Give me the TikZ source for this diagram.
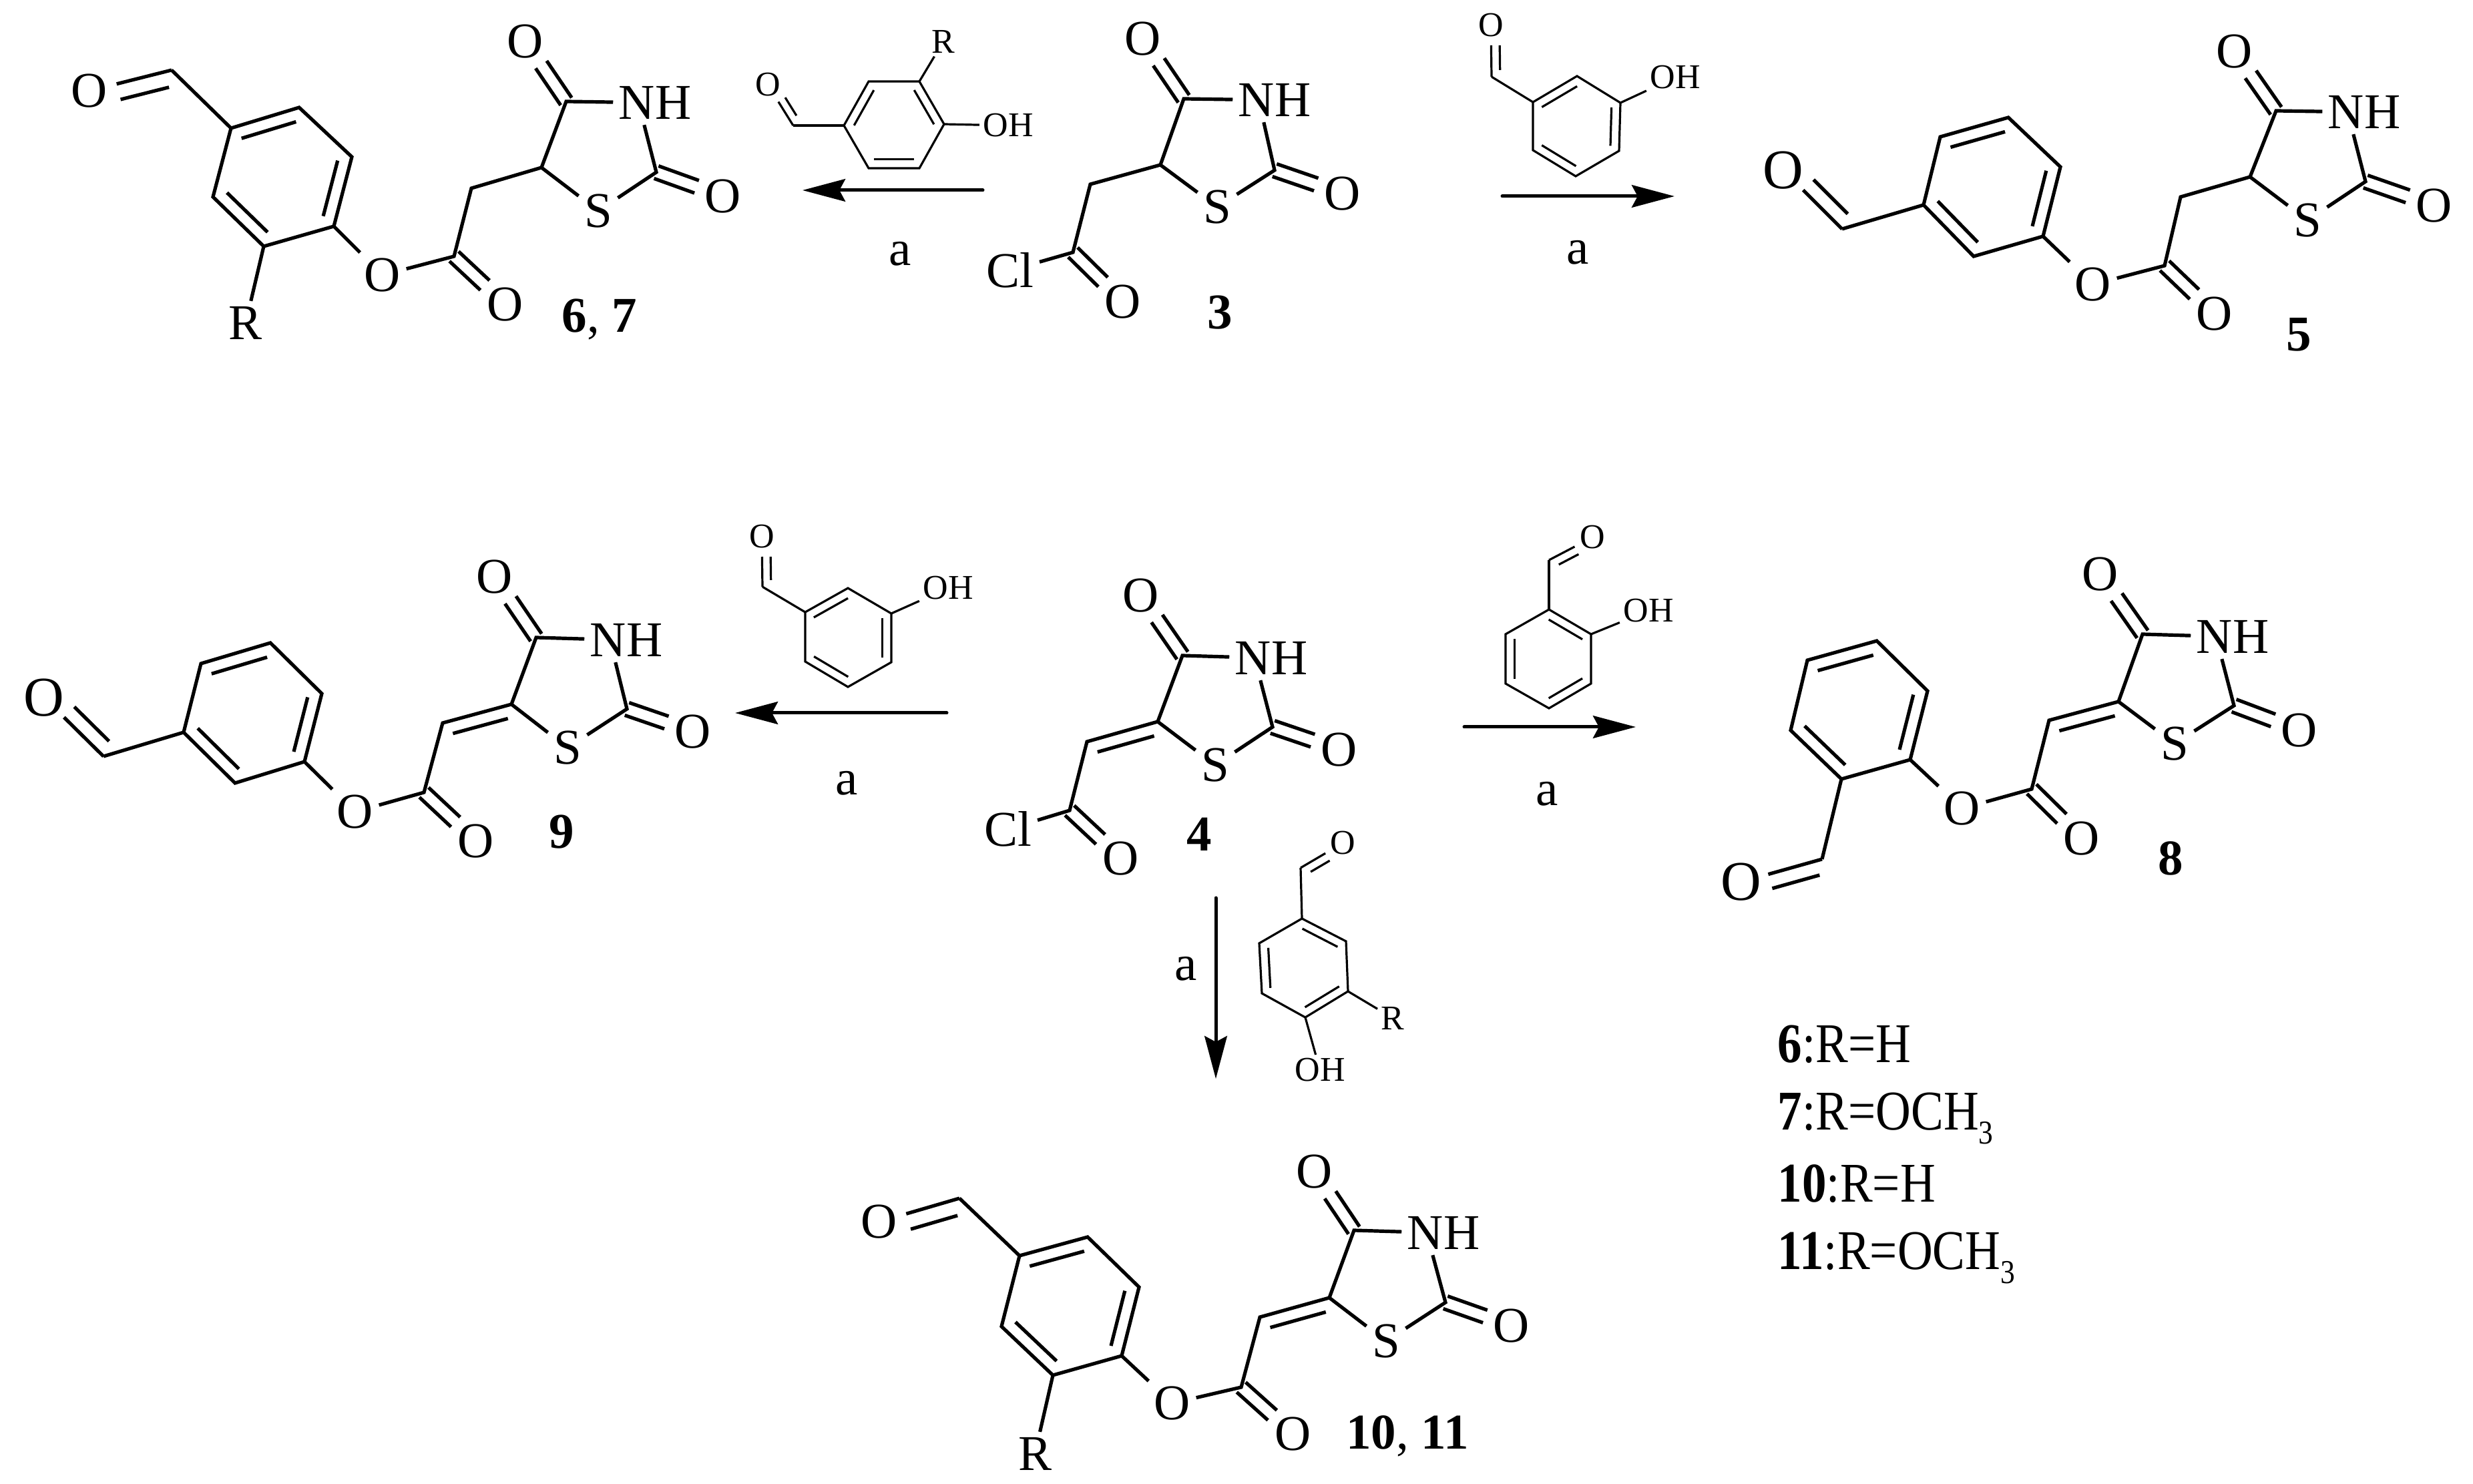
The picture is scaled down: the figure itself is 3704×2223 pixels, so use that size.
\documentclass[tikz,border=0pt]{standalone}
\usepackage{fontspec}
\setmainfont{Liberation Serif}
\newfontfamily\legfont[FakeStretch=.87]{Liberation Serif}
\usetikzlibrary{calc}
\usetikzlibrary{arrows.meta}

\def\ogap{10.5pt}
\def\inoff{4.8pt}

\tikzset{
  product/.style={line width=1.3pt,
    every node/.style={font=\fontsize{18.75}{20}\selectfont,inner sep=1.5pt}},
  reagent/.style={line width=.8pt,
    /utils/exec={\def\ogap{7.5pt}\def\inoff{3.3pt}},
    every node/.style={font=\fontsize{13}{14}\selectfont,inner sep=1pt}},
  bigO/.style={font=\fontsize{21}{22}\selectfont},
  rxn/.style={line width=1.25pt,line cap=round,-{Stealth[length=16pt,width=8.4pt,inset=2.2pt]}},
  cond/.style={font=\fontsize{18.75}{20}\selectfont},
  cmpd/.style={font=\fontsize{18.75}{20}\selectfont},
  legend/.style={font=\legfont\fontsize{21}{22}\selectfont,anchor=base west,inner sep=0pt}
}

% lowered subscript of the legend
\newcommand{\subthree}{\raisebox{-5.3pt}{\fontsize{12.5}{13}\selectfont 3}}
% second, shorter line of a ring double bond (a to b clockwise)
\newcommand{\inbond}[2]{\draw ($($(#1)!.1!(#2)$)!\inoff!-90:(#2)$) -- ($($(#2)!.1!(#1)$)!\inoff!90:(#1)$);}
% C=O, two lines either side of the axis
\newcommand{\dblsym}[2]{%
  \draw[shorten >=\ogap] ($(#1)!2.5pt!90:(#2)$) -- ($(#2)!2.5pt!-90:(#1)$);
  \draw[shorten >=\ogap] ($(#1)!2.5pt!-90:(#2)$) -- ($(#2)!2.5pt!90:(#1)$);}
% C=O of an aldehyde, one line from the carbon
\newcommand{\dblald}[3]{%
  \draw[shorten >=\ogap] ($(#1)$) -- ($(#2)$);
  \draw[shorten >=\ogap,shorten <=2.5pt] ($(#1)!#3!90:(#2)$) -- ($(#2)!#3!-90:(#1)$);}
% clockwise benzene ring, bonds 12, 34, 56 double
\newcommand{\benzene}[6]{%
  \draw (#1) -- (#2) -- (#3) -- (#4) -- (#5) -- (#6) -- cycle;
  \inbond{#1}{#2}\inbond{#3}{#4}\inbond{#5}{#6}}
% dione ring and the acyl arm
\newcommand{\thiazo}[1]{%
  \draw (#1c5) -- (#1c4) -- (#1nh);
  \draw (#1nh.-116) -- (#1c2) -- (#1s) -- (#1c5);
  \dblsym{#1c4}{#1o4}\dblsym{#1c2}{#1o2}\dblsym{#1co}{#1oc}
  \draw (#1x) -- (#1co) -- (#1ch) -- (#1c5);}

\begin{document}
\begin{tikzpicture}[x=.25pt,y=-.25pt]
\useasboundingbox (0,0) rectangle (3704,2223);

% product 6, 7
\begin{scope}[product]
\coordinate (p6cho) at (257,105); \coordinate (p6r1) at (346,192);
\coordinate (p6r2) at (448,161);  \coordinate (p6r3) at (527,235);
\coordinate (p6r4) at (500,339);  \coordinate (p6r5) at (395,369);
\coordinate (p6r6) at (319,295);
\coordinate (p6co) at (680,384);  \coordinate (p6ch) at (706,282);
\coordinate (p6c5) at (811,251);  \coordinate (p6c4) at (848,152);
\coordinate (p6c2) at (983,258);
\node (p6oa) at (134,136) {O};
\node (p6R) at (368,484) {R};
\node (p6x) at (573,412) {O};
\node (p6oc) at (757,456) {O};
\node (p6o4) at (787,62) {O};
\node (p6nh) at (981,154) {NH};
\node (p6o2) at (1083,294) {O};
\node (p6s) at (896,316) {S};
\node[cmpd] (l67) at (898,478) {\textbf{6}, \textbf{7}};
\benzene{p6r1}{p6r2}{p6r3}{p6r4}{p6r5}{p6r6}
\draw (p6r1) -- (p6cho); \dblald{p6cho}{p6oa}{6pt}
\draw (p6r5) -- (p6R); \draw (p6r4) -- (p6x);
\thiazo{p6}
\end{scope}

% reagent to 6, 7
\begin{scope}[reagent]
\coordinate (g1cho) at (1188,188); \coordinate (g1r1) at (1264,188);
\coordinate (g1r2) at (1301,122);  \coordinate (g1r3) at (1377,122);
\coordinate (g1r4) at (1414,186);  \coordinate (g1r5) at (1377,252);
\coordinate (g1r6) at (1301,252);
\node (g1o) at (1150,127) {O};
\node (g1R) at (1413,62) {R};
\node (g1oh) at (1510,188) {OH};
\benzene{g1r1}{g1r2}{g1r3}{g1r4}{g1r5}{g1r6}
\draw (g1r1) -- (g1cho); \dblald{g1cho}{g1o}{-3pt}
\draw (g1r3) -- (g1R); \draw (g1r4) -- (g1oh);
\end{scope}
\coordinate (a1s) at (1472,285); \coordinate (a1t) at (1202,285);
\draw[rxn] (a1s) -- (a1t);
\node[cond] (la1) at (1348,380) {a};

% chloride 3
\begin{scope}[product]
\coordinate (c3co) at (1607,378); \coordinate (c3ch) at (1633,276);
\coordinate (c3c5) at (1738,247); \coordinate (c3c4) at (1773,148);
\coordinate (c3c2) at (1909,255);
\node (c3x) at (1513,405) {Cl};
\node (c3oc) at (1682,452) {O};
\node (c3o4) at (1712,58) {O};
\node (c3nh) at (1909,150) {NH};
\node (c3o2) at (2011,290) {O};
\node (c3s) at (1823,310) {S};
\node[cmpd] (l3) at (1827,468) {\textbf{3}};
\thiazo{c3}
\end{scope}

% reagent to 5
\begin{scope}[reagent]
\coordinate (g2cho) at (2234,115); \coordinate (g2r1) at (2296,153);
\coordinate (g2r2) at (2362,114);  \coordinate (g2r3) at (2427,154);
\coordinate (g2r4) at (2425,226);  \coordinate (g2r5) at (2360,264);
\coordinate (g2r6) at (2296,225);
\node (g2o) at (2233,38) {O};
\node (g2oh) at (2509,116) {OH};
\benzene{g2r1}{g2r2}{g2r3}{g2r4}{g2r5}{g2r6}
\draw (g2r1) -- (g2cho); \dblald{g2cho}{g2o}{-3.2pt}
\draw (g2r3) -- (g2oh);
\end{scope}
\coordinate (a2s) at (2250,294); \coordinate (a2t) at (2508,294);
\draw[rxn] (a2s) -- (a2t);
\node[cond] (la2) at (2363,378) {a};

% product 5
\begin{scope}[product]
\coordinate (p5cho) at (2759,343); \coordinate (p5r1) at (2881,307);
\coordinate (p5r2) at (2906,205);  \coordinate (p5r3) at (3008,176);
\coordinate (p5r4) at (3086,250);  \coordinate (p5r5) at (3060,354);
\coordinate (p5r6) at (2956,384);
\coordinate (p5co) at (3242,398);  \coordinate (p5ch) at (3266,295);
\coordinate (p5c5) at (3370,265);  \coordinate (p5c4) at (3409,166);
\coordinate (p5c2) at (3543,272);
\node[bigO] (p5oa) at (2671,255) {O};
\node (p5x) at (3135,426) {O};
\node (p5oc) at (3317,470) {O};
\node (p5o4) at (3347,77) {O};
\node (p5nh) at (3541,168) {NH};
\node (p5o2) at (3646,308) {O};
\node (p5s) at (3456,330) {S};
\node[cmpd] (l5) at (3443,501) {\textbf{5}};
\draw (p5r1) -- (p5r2) -- (p5r3) -- (p5r4) -- (p5r5) -- (p5r6) -- cycle;
\inbond{p5r2}{p5r3}\inbond{p5r4}{p5r5}\inbond{p5r6}{p5r1}
\draw (p5r1) -- (p5cho); \dblald{p5cho}{p5oa}{-5.5pt}
\draw (p5r5) -- (p5x);
\thiazo{p5}
\end{scope}

% product 9
\begin{scope}[product]
\coordinate (p9cho) at (155,1133); \coordinate (p9r1) at (275,1097);
\coordinate (p9r2) at (301,994);   \coordinate (p9r3) at (405,963);
\coordinate (p9r4) at (482,1039);  \coordinate (p9r5) at (456,1141);
\coordinate (p9r6) at (352,1173);
\coordinate (p9co) at (635,1187);  \coordinate (p9ch) at (663,1083);
\coordinate (p9c5) at (766,1055);  \coordinate (p9c4) at (803,955);
\coordinate (p9c2) at (939,1062);
\node[bigO] (p9oa) at (66,1045) {O};
\node (p9x) at (532,1216) {O};
\node (p9oc) at (713,1260) {O};
\node (p9o4) at (741,864) {O};
\node (p9nh) at (938,959) {NH};
\node (p9o2) at (1038,1096) {O};
\node (p9s) at (850,1120) {S};
\node[cmpd] (l9) at (841,1246) {\textbf{9}};
\draw (p9r1) -- (p9r2) -- (p9r3) -- (p9r4) -- (p9r5) -- (p9r6) -- cycle;
\inbond{p9r2}{p9r3}\inbond{p9r4}{p9r5}\inbond{p9r6}{p9r1}
\draw (p9r1) -- (p9cho); \dblald{p9cho}{p9oa}{-5.5pt}
\draw (p9r5) -- (p9x);
\thiazo{p9}
\inbond{p9ch}{p9c5}
\end{scope}

% reagent to 9
\begin{scope}[reagent]
\coordinate (g3cho) at (1142,879); \coordinate (g3r1) at (1206,917);
\coordinate (g3r2) at (1270,881);  \coordinate (g3r3) at (1335,919);
\coordinate (g3r4) at (1335,992);  \coordinate (g3r5) at (1270,1029);
\coordinate (g3r6) at (1206,991);
\node (g3o) at (1141,804) {O};
\node (g3oh) at (1420,881) {OH};
\benzene{g3r1}{g3r2}{g3r3}{g3r4}{g3r5}{g3r6}
\draw (g3r1) -- (g3cho); \dblald{g3cho}{g3o}{-3.2pt}
\draw (g3r3) -- (g3oh);
\end{scope}
\coordinate (a3s) at (1418,1068); \coordinate (a3t) at (1101,1068);
\draw[rxn] (a3s) -- (a3t);
\node[cond] (la3) at (1268,1173) {a};

% chloride 4
\begin{scope}[product]
\coordinate (c4co) at (1602,1214); \coordinate (c4ch) at (1628,1111);
\coordinate (c4c5) at (1734,1081); \coordinate (c4c4) at (1771,982);
\coordinate (c4c2) at (1906,1089);
\node (c4x) at (1510,1242) {Cl};
\node (c4oc) at (1679,1286) {O};
\node (c4o4) at (1709,892) {O};
\node (c4nh) at (1904,986) {NH};
\node (c4o2) at (2006,1123) {O};
\node (c4s) at (1820,1146) {S};
\node[cmpd] (l4) at (1796,1250) {\textbf{4}};
\thiazo{c4}
\inbond{c4ch}{c4c5}
\end{scope}

% reagent to 8
\begin{scope}[reagent]
\coordinate (g4cho) at (2320,839); \coordinate (g4r1) at (2320,913);
\coordinate (g4r2) at (2383,950);  \coordinate (g4r3) at (2383,1024);
\coordinate (g4r4) at (2320,1061); \coordinate (g4r5) at (2255,1024);
\coordinate (g4r6) at (2255,950);
\node (g4o) at (2385,805) {O};
\node (g4oh) at (2469,915) {OH};
\benzene{g4r1}{g4r2}{g4r3}{g4r4}{g4r5}{g4r6}
\draw (g4r1) -- (g4cho); \dblald{g4cho}{g4o}{-3.2pt}
\draw (g4r2) -- (g4oh);
\end{scope}
\coordinate (a4s) at (2193,1089); \coordinate (a4t) at (2450,1089);
\draw[rxn] (a4s) -- (a4t);
\node[cond] (la4) at (2317,1189) {a};

% product 8
\begin{scope}[product]
\coordinate (p8cho) at (2729,1287); \coordinate (p8r1) at (2758,1167);
\coordinate (p8r2) at (2861,1138);  \coordinate (p8r3) at (2887,1035);
\coordinate (p8r4) at (2811,960);   \coordinate (p8r5) at (2707,989);
\coordinate (p8r6) at (2682,1094);
\coordinate (p8co) at (3043,1182);  \coordinate (p8ch) at (3069,1079);
\coordinate (p8c5) at (3173,1051);  \coordinate (p8c4) at (3209,950);
\coordinate (p8c2) at (3346,1057);
\node[bigO] (p8oa) at (2608,1321) {O};
\node (p8x) at (2939,1211) {O};
\node (p8oc) at (3118,1256) {O};
\node (p8o4) at (3146,860) {O};
\node (p8nh) at (3344,954) {NH};
\node (p8o2) at (3444,1094) {O};
\node (p8s) at (3257,1114) {S};
\node[cmpd] (l8) at (3251,1286) {\textbf{8}};
\draw (p8r1) -- (p8r2) -- (p8r3) -- (p8r4) -- (p8r5) -- (p8r6) -- cycle;
\inbond{p8r3}{p8r2}\inbond{p8r5}{p8r4}\inbond{p8r1}{p8r6}
\draw (p8r1) -- (p8cho); \dblald{p8cho}{p8oa}{5.5pt}
\draw (p8r2) -- (p8x);
\thiazo{p8}
\inbond{p8ch}{p8c5}
\end{scope}

% reagent to 10, 11
\begin{scope}[reagent]
\coordinate (g5cho) at (1948,1300); \coordinate (g5r1) at (1950,1376);
\coordinate (g5r2) at (2016,1410);  \coordinate (g5r3) at (2019,1485);
\coordinate (g5r4) at (1955,1524);  \coordinate (g5r5) at (1890,1488);
\coordinate (g5r6) at (1886,1413);
\node (g5o) at (2011,1263) {O};
\node (g5R) at (2086,1525) {R};
\node (g5oh) at (1977,1603) {OH};
\benzene{g5r1}{g5r2}{g5r3}{g5r4}{g5r5}{g5r6}
\draw (g5r1) -- (g5cho); \dblald{g5cho}{g5o}{-3.2pt}
\draw (g5r3) -- (g5R); \draw (g5r4) -- (g5oh);
\end{scope}
\coordinate (a5s) at (1821,1345); \coordinate (a5t) at (1821,1616);
\draw[rxn] (a5s) -- (a5t);
\node[cond] (la5) at (1776,1451) {a};

% product 10, 11
\begin{scope}[product]
\coordinate (p0cho) at (1437,1795); \coordinate (p0r1) at (1527,1881);
\coordinate (p0r2) at (1629,1853);  \coordinate (p0r3) at (1706,1928);
\coordinate (p0r4) at (1680,2031);  \coordinate (p0r5) at (1577,2060);
\coordinate (p0r6) at (1500,1987);
\coordinate (p0co) at (1859,2078);  \coordinate (p0ch) at (1887,1973);
\coordinate (p0c5) at (1991,1944);  \coordinate (p0c4) at (2028,1843);
\coordinate (p0c2) at (2165,1951);
\node (p0oa) at (1317,1830) {O};
\node (p0R) at (1550,2178) {R};
\node (p0x) at (1756,2102) {O};
\node (p0oc) at (1937,2148) {O};
\node (p0o4) at (1969,1755) {O};
\node (p0nh) at (2162,1847) {NH};
\node (p0o2) at (2264,1986) {O};
\node (p0s) at (2076,2009) {S};
\node[cmpd] (l01) at (2108,2151) {\textbf{10}, \textbf{11}};
\benzene{p0r1}{p0r2}{p0r3}{p0r4}{p0r5}{p0r6}
\draw (p0r1) -- (p0cho); \dblald{p0cho}{p0oa}{6pt}
\draw (p0r5) -- (p0R); \draw (p0r4) -- (p0x);
\thiazo{p0}
\inbond{p0ch}{p0c5}
\end{scope}

% R groups
\node[legend] (leg6) at (2662,1591) {\textbf{6}:R=H};
\node[legend] (leg7) at (2662,1692) {\textbf{7}:R=OCH\subthree};
\node[legend] (leg10) at (2662,1800) {\textbf{10}:R=H};
\node[legend] (leg11) at (2662,1901) {\textbf{11}:R=OCH\subthree};

\end{tikzpicture}
\end{document}
